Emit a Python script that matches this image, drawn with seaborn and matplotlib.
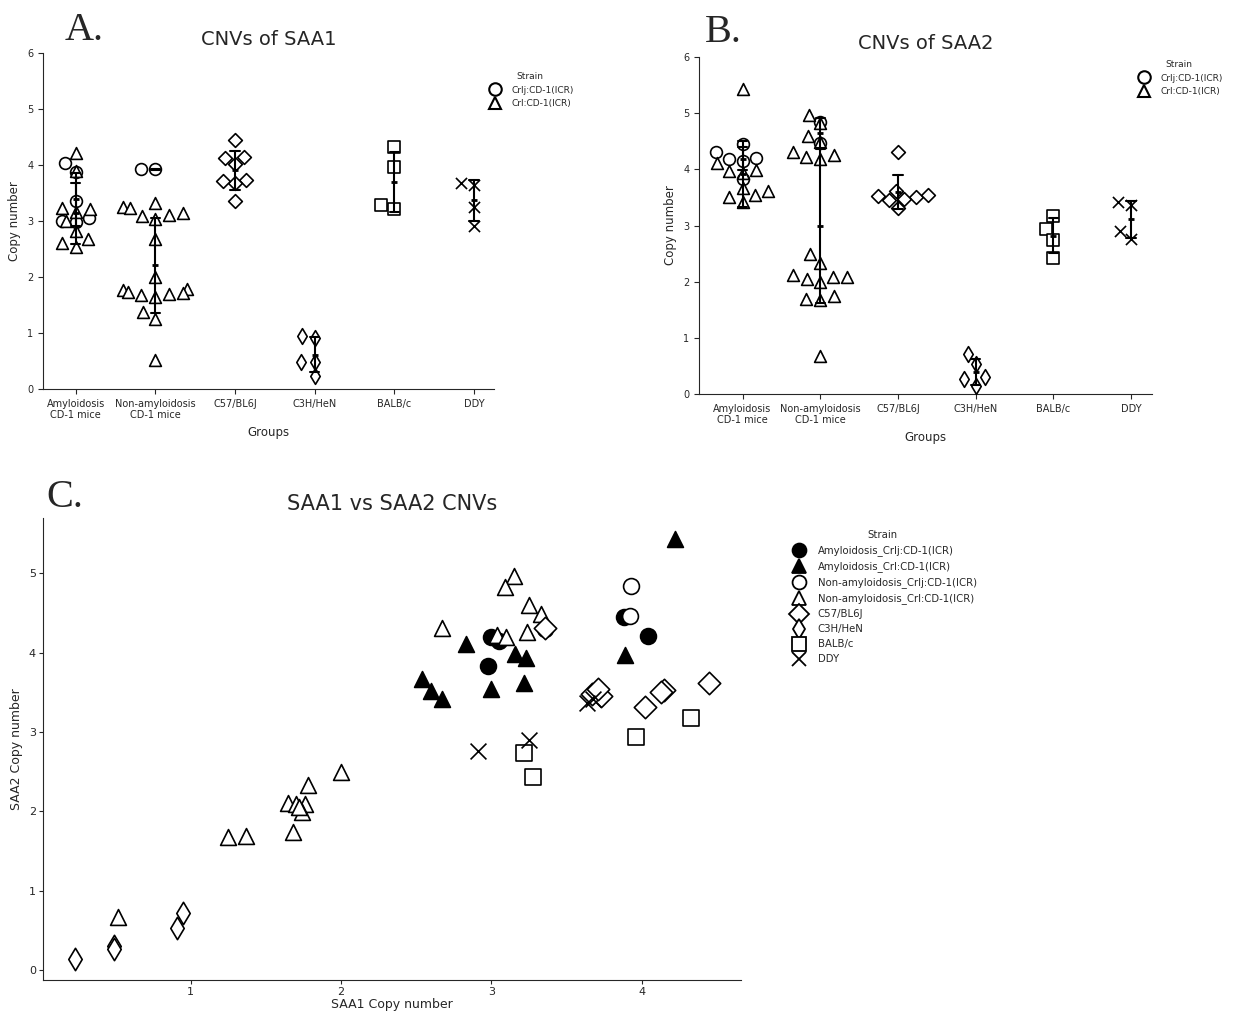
import pandas as pd
import numpy as np
import seaborn as sns
import matplotlib.pyplot as plt
from matplotlib.lines import Line2D

# Copy numbers per mouse, paired (SAA1, SAA2)
amy_crlj_saa1 = [4.04, 3.88, 3.36, 3.00, 3.05, 2.98]
amy_crlj_saa2 = [4.21, 4.45, 4.30, 4.19, 4.15, 3.83]

amy_crl_saa1 = [4.22, 2.83, 3.16, 3.23, 3.00, 3.22, 2.54, 2.60, 2.67, 3.89]
amy_crl_saa2 = [5.43, 4.11, 3.98, 3.93, 3.54, 3.62, 3.67, 3.51, 3.42, 3.97]

non_crlj_saa1 = [3.93, 3.92]
non_crlj_saa2 = [4.84, 4.46]

non_crl_saa1 = [3.15, 3.09, 3.25, 3.33, 3.24, 3.04, 3.10, 2.67, 2.00, 1.78,
                1.65, 1.70, 1.76, 1.74, 1.72, 1.68, 1.25, 1.37, 0.52]
non_crl_saa2 = [4.97, 4.83, 4.60, 4.49, 4.26, 4.22, 4.19, 4.31, 2.50, 2.33,
                2.11, 2.09, 2.09, 1.99, 2.05, 1.74, 1.68, 1.69, 0.67]

c57_saa1 = [3.36, 4.45, 4.15, 4.13, 4.02, 3.73, 3.67, 3.71]
c57_saa2 = [4.31, 3.62, 3.53, 3.50, 3.31, 3.45, 3.48, 3.54]

c3h_saa1 = [0.95, 0.91, 0.49, 0.49, 0.23]
c3h_saa2 = [0.72, 0.53, 0.31, 0.26, 0.14]

balb_saa1 = [4.33, 3.96, 3.22, 3.28]
balb_saa2 = [3.17, 2.93, 2.74, 2.43]

ddy_saa1 = [2.91, 3.25, 3.64, 3.68]
ddy_saa2 = [2.76, 2.90, 3.36, 3.41]

groups = ['Amyloidosis\nCD-1 mice', 'Non-amyloidosis\nCD-1 mice',
          'C57/BL6J', 'C3H/HeN', 'BALB/c', 'DDY']

# (strain label, group, sub label for A/B, saa1, saa2)
subsets = [
    ('Amyloidosis_Crlj:CD-1(ICR)', groups[0], 'Crlj:CD-1(ICR)', amy_crlj_saa1, amy_crlj_saa2),
    ('Amyloidosis_Crl:CD-1(ICR)', groups[0], 'Crl:CD-1(ICR)', amy_crl_saa1, amy_crl_saa2),
    ('Non-amyloidosis_Crlj:CD-1(ICR)', groups[1], 'Crlj:CD-1(ICR)', non_crlj_saa1, non_crlj_saa2),
    ('Non-amyloidosis_Crl:CD-1(ICR)', groups[1], 'Crl:CD-1(ICR)', non_crl_saa1, non_crl_saa2),
    ('C57/BL6J', groups[2], 'C57/BL6J', c57_saa1, c57_saa2),
    ('C3H/HeN', groups[3], 'C3H/HeN', c3h_saa1, c3h_saa2),
    ('BALB/c', groups[4], 'BALB/c', balb_saa1, balb_saa2),
    ('DDY', groups[5], 'DDY', ddy_saa1, ddy_saa2),
]

rows = []
for strain, grp, sub, s1, s2 in subsets:
    for a, b in zip(s1, s2):
        rows.append({'Strain': strain, 'Group': grp, 'Sub': sub, 'SAA1': a, 'SAA2': b})
df = pd.DataFrame(rows)

# marker, filled in panel C, swarm size in A/B
styles = {
    'Amyloidosis_Crlj:CD-1(ICR)': ('o', True, 8.5),
    'Amyloidosis_Crl:CD-1(ICR)': ('^', True, 8.5),
    'Non-amyloidosis_Crlj:CD-1(ICR)': ('o', False, 8.5),
    'Non-amyloidosis_Crl:CD-1(ICR)': ('^', False, 8.5),
    'C57/BL6J': ('D', False, 7),
    'C3H/HeN': ('d', False, 8),
    'BALB/c': ('s', False, 8),
    'DDY': ('x', False, 8),
}

sns.set_style('ticks')
plt.rcParams['font.family'] = ['DejaVu Sans']

fig = plt.figure(figsize=(12.34, 10.14), dpi=100)
axA = fig.add_axes([43 / 1234, 1 - 389 / 1014, 451 / 1234, 336 / 1014])
axB = fig.add_axes([699 / 1234, 1 - 394 / 1014, 453 / 1234, 337 / 1014])
axC = fig.add_axes([43 / 1234, 1 - 980 / 1014, 698 / 1234, 462 / 1014])


def cnv_panel(ax, col, title, xlim):
    for strain, (m, filled, sz) in styles.items():
        d = df[df['Strain'] == strain]
        if m == 'x':
            sns.swarmplot(data=d, x='Group', y=col, order=groups, marker=m, size=sz,
                          color='black', linewidth=1.2, ax=ax)
        else:
            sns.swarmplot(data=d, x='Group', y=col, order=groups, marker=m, size=sz,
                          color='white', edgecolor='black', linewidth=1.2, ax=ax)
    # mean +/- SD per sub group
    subs = df['Sub'].unique()
    sns.pointplot(data=df, x='Group', y=col, hue='Sub', order=groups,
                  palette={s: 'black' for s in subs}, dodge=False, errorbar='sd',
                  capsize=0.12, markers='_', linestyles='none', markersize=5,
                  err_kws={'linewidth': 1.5}, legend=False, zorder=4, ax=ax)
    ax.set_ylim(0, 6)
    ax.set_xlim(*xlim)
    ax.set_title(title, fontsize=14)
    ax.set_xlabel('Groups', fontsize=8.5)
    ax.set_ylabel('Copy number', fontsize=8.5)
    ax.tick_params(labelsize=7)
    sns.despine(ax=ax)


cnv_panel(axA, 'SAA1', 'CNVs of SAA1', (-0.41, 5.25))
cnv_panel(axB, 'SAA2', 'CNVs of SAA2', (-0.56, 5.27))

ab_handles = [
    Line2D([], [], marker='o', ls='none', mfc='white', mec='black', mew=1.5, ms=9,
           label='Crlj:CD-1(ICR)'),
    Line2D([], [], marker='^', ls='none', mfc='white', mec='black', mew=1.5, ms=8,
           label='Crl:CD-1(ICR)'),
]
for ax, x0, y0 in [(axA, 478, 64), (axB, 1127, 52)]:
    ax.legend(handles=ab_handles, title='Strain', loc='upper left',
              bbox_to_anchor=(x0 / 1234, 1 - y0 / 1014), bbox_transform=fig.transFigure,
              frameon=False, fontsize=6.5, title_fontsize=6.5)

# Panel C: SAA1 vs SAA2
c_handles = []
for strain, (m, filled, sz) in styles.items():
    d = df[df['Strain'] == strain]
    face = 'black' if filled else 'white'
    if m == 'x':
        sns.scatterplot(data=d, x='SAA1', y='SAA2', marker=m, s=130, color='black',
                        linewidth=1.2, ax=axC)
        c_handles.append(Line2D([], [], marker=m, ls='none', color='black', mew=1.3,
                                ms=10, label=strain))
    else:
        sns.scatterplot(data=d, x='SAA1', y='SAA2', marker=m, s=130, color=face,
                        edgecolor='black', linewidth=1.2, ax=axC)
        c_handles.append(Line2D([], [], marker=m, ls='none', mfc=face, mec='black',
                                mew=1.3, ms=10, label=strain))

axC.legend(handles=c_handles, title='Strain', loc='upper left',
           bbox_to_anchor=(780 / 1234, 1 - 521 / 1014), bbox_transform=fig.transFigure,
           frameon=False, fontsize=7.3, title_fontsize=7.3)
axC.set_title('SAA1 vs SAA2 CNVs', fontsize=15)
axC.set_xlabel('SAA1 Copy number', fontsize=9, labelpad=1)
axC.set_ylabel('SAA2 Copy number', fontsize=9)
axC.tick_params(labelsize=8, length=3, pad=2)
sns.despine(ax=axC)

# panel letters
for lbl, x, y in [('A.', 65, 40), ('B.', 705, 42), ('C.', 46, 507)]:
    fig.text(x / 1234, 1 - y / 1014, lbl, family='Liberation Serif', fontsize=29,
             ha='left', va='baseline')

fig.savefig('out.png', dpi=100)
